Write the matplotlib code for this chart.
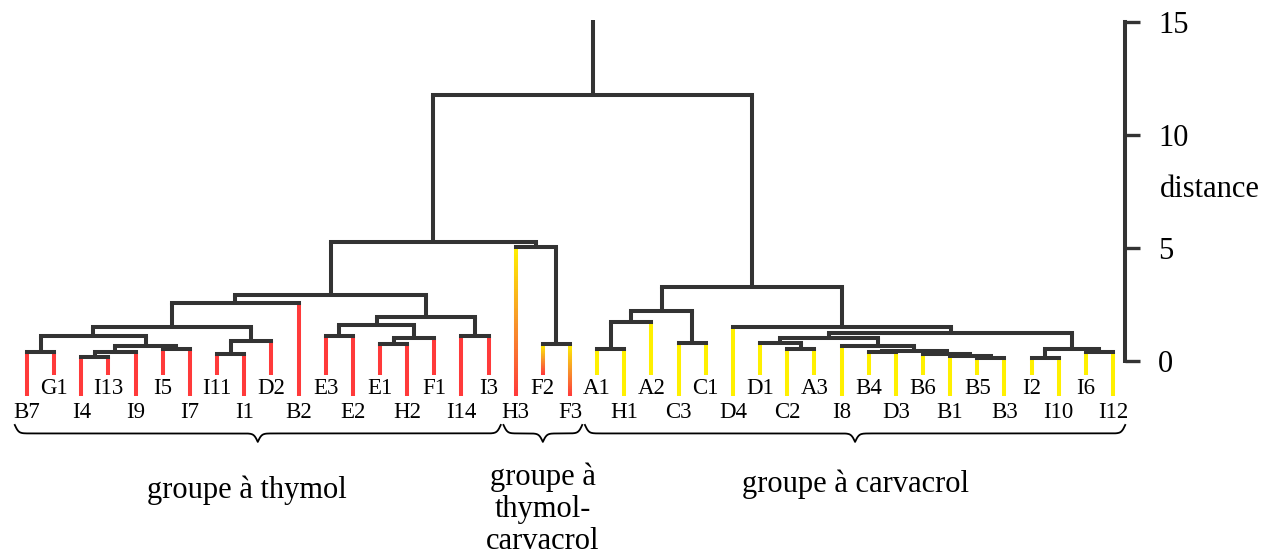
import numpy as np
import matplotlib
matplotlib.use("Agg")
import matplotlib.pyplot as plt
from matplotlib.collections import LineCollection
from matplotlib.colors import LinearSegmentedColormap

plt.rcParams["font.family"] = ["Liberation Serif", "DejaVu Serif"]

# ---------------- data ----------------
leaves = ["B7", "G1", "I4", "I13", "I9", "I5", "I7", "I11", "I1", "D2", "B2",
          "E3", "E2", "E1", "H2", "F1", "I14", "I3", "H3", "F2", "F3",
          "A1", "H1", "A2", "C3", "C1", "D4", "D1", "C2", "A3", "I8",
          "B4", "D3", "B6", "B1", "B5", "B3", "I2", "I10", "I6", "I12"]
leaf_group = ["thymol"] * 18 + ["mixte"] * 3 + ["carvacrol"] * 20

# agglomeration steps: node nK is created by merging merge_left[K] and merge_right[K]
merge_left = ["B7", "I4", "n1", "I5", "n2", "n0", "I11", "n6", "n5", "n8",
              "E3", "E1", "n11", "n10", "I14", "n13", "n9",
              "F2", "H3", "n16",
              "A1", "n20", "C3", "n21", "C2", "D1", "B5", "B1", "B6", "B4",
              "n29", "I8", "n25", "I2", "I6", "n33", "n32", "D4", "n23",
              "n19"]
merge_right = ["G1", "I13", "I9", "I7", "n3", "n4", "I1", "D2", "n7", "B2",
               "E2", "H2", "F1", "n12", "I3", "n14", "n15",
               "F3", "n17", "n18",
               "H1", "A2", "C1", "n22", "A3", "n24", "B3", "n26", "n27", "D3",
               "n28", "n30", "n31", "I10", "I12", "n34", "n35", "n36", "n37",
               "n38"]
merge_height = [0.38, 0.16, 0.38, 0.52, 0.66, 1.10, 0.30, 0.88, 1.49, 2.58,
                1.10, 0.75, 1.00, 1.59, 1.10, 1.93, 2.92,
                0.75, 5.03, 5.27,
                0.52, 1.73, 0.78, 2.20, 0.52, 0.78, 0.15, 0.20, 0.32, 0.41,
                0.45, 0.66, 1.00, 0.15, 0.41, 0.52, 1.22, 1.49, 3.26,
                11.77]
root_stem_top = 15.1

y_ticks = [0, 5, 10, 15]
y_label = "distance"

group_names = ["groupe à thymol", "groupe à\nthymol-\ncarvacrol", "groupe à carvacrol"]
group_first = [0, 18, 21]
group_last = [17, 20, 40]

# ---------------- style ----------------
DARK = "#333333"
RED = "#ff3a3a"
YELLOW = "#fff000"
grad = LinearSegmentedColormap.from_list("ty", [RED, "#f7962a", YELLOW])
LW = 2.9

# pixel-calibrated frame: leaf spacing and distance scale
W, H = 1262, 558
X0, DX = 27.0, 27.15
Y0, DY = 361.0, 22.6

fig = plt.figure(figsize=(W / 100, H / 100), dpi=100)
ax = fig.add_axes([0, 0, 1, 1])
ax.set_xlim(-X0 / DX, (W - X0) / DX)
ax.set_ylim(-(H - Y0) / DY, Y0 / DY)

leaf_bottom_upper = -0.6
leaf_bottom_lower = -1.55

pos = {name: float(i) for i, name in enumerate(leaves)}
leaf_index = {name: i for i, name in enumerate(leaves)}
top = {}


def draw_leaf(name, h):
    i = leaf_index[name]
    yb = leaf_bottom_upper if i % 2 else leaf_bottom_lower
    g = leaf_group[i]
    if g == "mixte":
        ys = np.linspace(yb, h, 80)
        segs = [[(i, ys[k]), (i, ys[k + 1])] for k in range(len(ys) - 1)]
        fr = np.linspace(0, 1, len(segs))
        lc = LineCollection(segs, colors=grad(fr), linewidths=LW,
                            capstyle="butt", zorder=2)
        ax.add_collection(lc)
    else:
        c = RED if g == "thymol" else YELLOW
        ax.plot([i, i], [yb, h], color=c, lw=LW, solid_capstyle="butt", zorder=2)


for k, (l, r, h) in enumerate(zip(merge_left, merge_right, merge_height)):
    node = f"n{k}"
    for child in (l, r):
        if child in leaf_index:
            draw_leaf(child, h)
        else:
            ax.plot([pos[child], pos[child]], [top[child], h], color=DARK,
                    lw=LW, solid_capstyle="butt", zorder=3)
    ax.plot([pos[l], pos[r]], [h, h], color=DARK, lw=LW,
            solid_capstyle="projecting", zorder=3)
    pos[node] = (pos[l] + pos[r]) / 2
    top[node] = h

root = f"n{len(merge_height) - 1}"
ax.plot([pos[root], pos[root]], [top[root], root_stem_top], color=DARK, lw=LW,
        solid_capstyle="butt", zorder=3)

# leaf labels (two staggered rows)
for i, name in enumerate(leaves):
    yb = -1.48 if i % 2 else -2.5
    ax.text(i, yb, name, ha="center", va="baseline", fontsize=16.5)


# braces and group labels
def brace(x0, x1, ytop, depth, beta=14):
    half = (x1 - x0) / 2
    xs = np.linspace(0, half, 300)
    yh = 1 / (1 + np.exp(-beta * (xs - xs[0]))) + 1 / (1 + np.exp(-beta * (xs - xs[-1])))
    xx = np.concatenate([x0 + xs, x0 + half + xs[1:]])
    yy = np.concatenate([yh, yh[::-1][1:]])
    yy = (yy - yy.min()) / (yy.max() - yy.min())
    ax.plot(xx, ytop - depth * yy, color="black", lw=1.3, zorder=2)


for name, a, b in zip(group_names, group_first, group_last):
    x0, x1 = a - 0.45, b + 0.45
    brace(x0, x1, -2.83, 0.75)
    xc = (x0 + x1) / 2
    if "\n" in name:
        ax.text(xc, -4.5, name, ha="center", va="top", fontsize=22,
                linespacing=1.14)
    elif "thymol" in name:
        ax.text(xc - 0.4, -6.06, name, ha="center", va="baseline", fontsize=22)
    else:
        ax.text(xc, -5.8, name, ha="center", va="baseline", fontsize=22)

# distance scale
for s in ["top", "left", "bottom"]:
    ax.spines[s].set_visible(False)
ax.xaxis.set_visible(False)
sp = ax.spines["right"]
sp.set_position(("data", (1125 - X0) / DX))
sp.set_bounds(0, 15)
sp.set_linewidth(LW)
sp.set_color(DARK)
ax.yaxis.tick_right()
ax.set_yticks(y_ticks)
ax.set_yticklabels([str(t) for t in y_ticks])
ax.tick_params(axis="y", direction="out", length=11, width=2.4, color=DARK,
               pad=13, labelsize=22)
ax.text((1160 - X0) / DX, 7.57, y_label, ha="left", va="center", fontsize=22)

fig.savefig("out.png", dpi=100)
